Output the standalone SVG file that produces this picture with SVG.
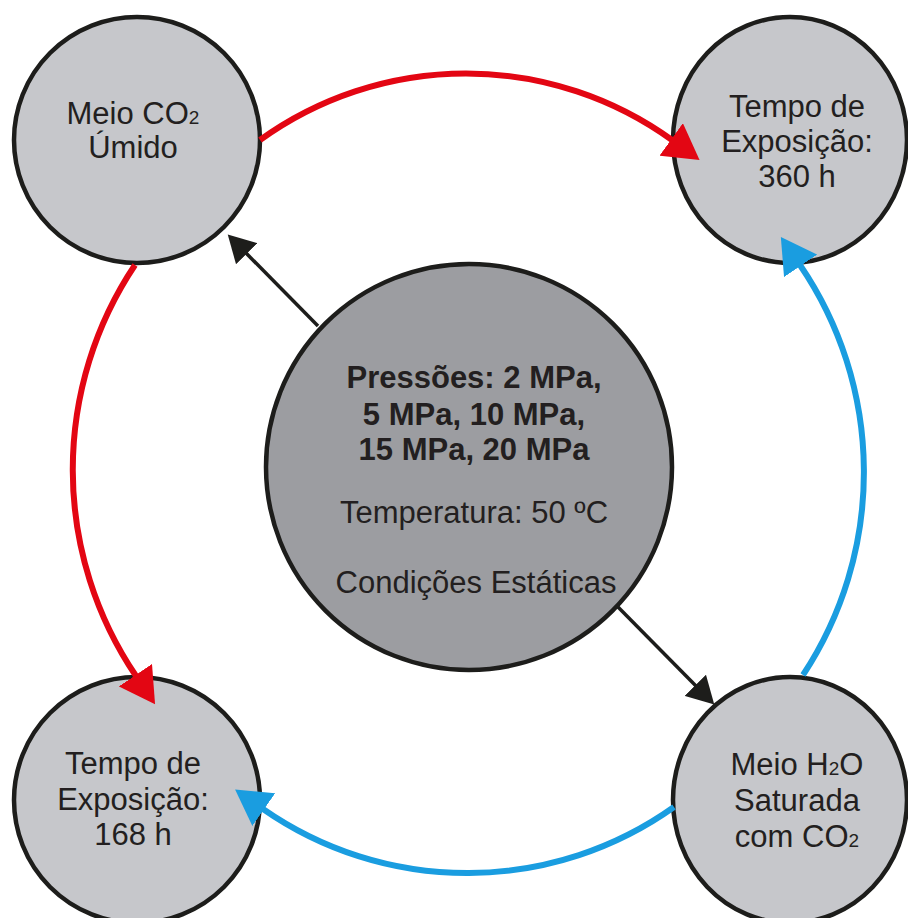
<svg xmlns="http://www.w3.org/2000/svg" width="908" height="918" viewBox="0 0 908 918">
<style>
.node{fill:#c6c7cb;stroke:#1d1d1b;stroke-width:4.5}
.core{fill:#9c9da1;stroke:#1d1d1b;stroke-width:4.5}
text{font-family:"Liberation Sans",Arial,sans-serif;font-size:31px;fill:#231f20;text-anchor:middle}
.b{font-weight:bold}
.red{fill:none;stroke:#e30613;stroke-width:6}
.blue{fill:none;stroke:#1a9de0;stroke-width:6}
.blk{fill:none;stroke:#1d1d1b;stroke-width:3.5}
</style>
<defs>
<marker id="ahR" markerUnits="userSpaceOnUse" viewBox="0 0 36 40" markerWidth="36" markerHeight="40" refX="1" refY="20" orient="auto"><path d="M0,0 L35,20 L0,40 Z" fill="#e30613"/></marker>
<marker id="ahB" markerUnits="userSpaceOnUse" viewBox="0 0 36 40" markerWidth="36" markerHeight="40" refX="1" refY="20" orient="auto"><path d="M0,0 L35,20 L0,40 Z" fill="#1a9de0"/></marker>
<marker id="ahK" markerUnits="userSpaceOnUse" viewBox="0 0 28 30" markerWidth="28" markerHeight="30" refX="1" refY="15" orient="auto"><path d="M0,0 L27,15 L0,30 Z" fill="#1d1d1b"/></marker>
</defs>
<rect width="908" height="918" fill="#ffffff"/>
<g id="center">
<circle class="core" cx="469" cy="467" r="203"/>
<text class="b" x="474" y="388">Pressões: 2 MPa,</text>
<text class="b" x="474" y="425">5 MPa, 10 MPa,</text>
<text class="b" x="474" y="460">15 MPa, 20 MPa</text>
<text x="474" y="523">Temperatura: 50 ºC</text>
<text x="476" y="593">Condições Estáticas</text>
</g>
<g id="meio-co2">
<circle class="node" cx="137" cy="140" r="123"/>
<text x="133" y="124">Meio CO<tspan font-size="19">2</tspan></text>
<text x="133" y="158">Úmido</text>
</g>
<g id="tempo-360">
<ellipse class="node" cx="790" cy="140" rx="117" ry="123"/>
<text x="797" y="117">Tempo de</text>
<text x="797" y="152">Exposição:</text>
<text x="797" y="187">360 h</text>
</g>
<g id="tempo-168">
<circle class="node" cx="137" cy="800" r="123"/>
<text x="133" y="774">Tempo de</text>
<text x="133" y="810">Exposição:</text>
<text x="133" y="845">168 h</text>
</g>
<g id="meio-h2o">
<ellipse class="node" cx="790" cy="800" rx="117" ry="123"/>
<text x="797" y="775">Meio H<tspan font-size="19">2</tspan>O</text>
<text x="797" y="811">Saturada</text>
<text x="797" y="847">com CO<tspan font-size="19">2</tspan></text>
</g>
<g id="connectors">
<path class="red" d="M260,140 A352,352 0 0,1 672,140" marker-end="url(#ahR)"/>
<path class="red" d="M135,265 A368,368 0 0,0 136,676" marker-end="url(#ahR)"/>
<path class="blue" d="M803,675 A368,368 0 0,0 800,265" marker-end="url(#ahB)"/>
<path class="blue" d="M674,807 A357,357 0 0,1 263,809" marker-end="url(#ahB)"/>
<path class="blk" d="M318,326 L246,253" marker-end="url(#ahK)"/>
<path class="blk" d="M618,607 L696,686" marker-end="url(#ahK)"/>
</g>
</svg>
